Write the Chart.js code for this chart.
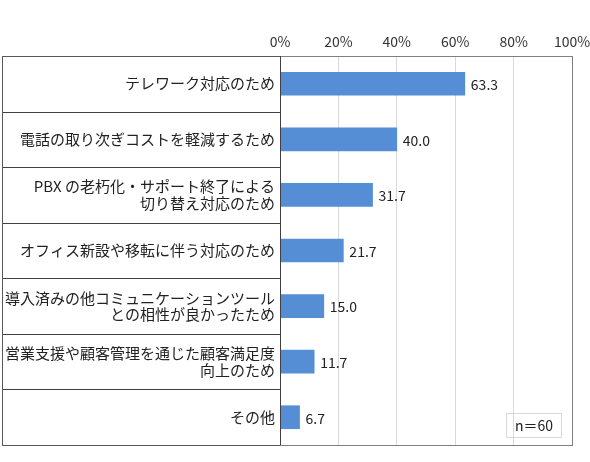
<!DOCTYPE html>
<html><head><meta charset="utf-8">
<script src="https://cdn.jsdelivr.net/npm/chart.js@4"></script>
<style>html,body{margin:0;padding:0;background:#fff}#w{width:590px;height:462px}</style>
</head><body><div id="w"><canvas id="c"></canvas></div>
<script>
const categories = [
  ["テレワーク対応のため"],
  ["電話の取り次ぎコストを軽減するため"],
  ["PBX の老朽化・サポート終了による","切り替え対応のため"],
  ["オフィス新設や移転に伴う対応のため"],
  ["導入済みの他コミュニケーションツール","との相性が良かったため"],
  ["営業支援や顧客管理を通じた顧客満足度","向上のため"],
  ["その他"]
];
const values = [63.3, 40.0, 31.7, 21.7, 15.0, 11.7, 6.7];
const tickValues = [0, 20, 40, 60, 80, 100];
const noteText = "n＝60";
const FONT = "'Noto Sans CJK JP', 'Noto Sans', sans-serif";

const frame = {
  id: 'frame',
  afterDraw(chart) {
    const {ctx, chartArea: a, scales: {x, y}} = chart;
    const left = 2;
    ctx.save();
    ctx.lineWidth = 1;
    ctx.strokeStyle = '#404040';
    for (let i = 0; i < categories.length - 1; i++) {
      const yy = Math.round((y.getPixelForValue(i) + y.getPixelForValue(i + 1)) / 2) + 0.5;
      ctx.beginPath(); ctx.moveTo(left, yy); ctx.lineTo(a.left, yy); ctx.stroke();
    }
    ctx.strokeStyle = '#595959';
    ctx.strokeRect(left + 0.5, Math.round(a.top) + 0.5, Math.round(a.left - left), Math.round(a.bottom - a.top));
    ctx.strokeStyle = '#7f7f7f';
    ctx.strokeRect(Math.round(a.left) + 0.5, Math.round(a.top) + 0.5, Math.round(a.right - a.left), Math.round(a.bottom - a.top));
    ctx.strokeStyle = '#404040';
    const x0 = Math.round(x.getPixelForValue(0)) + 0.5;
    ctx.beginPath(); ctx.moveTo(x0, a.top); ctx.lineTo(x0, a.bottom); ctx.stroke();
    ctx.fillStyle = '#222';
    ctx.font = "14px " + FONT;
    ctx.textAlign = 'left'; ctx.textBaseline = 'middle';
    chart.getDatasetMeta(0).data.forEach((bar, i) => {
      ctx.fillText(values[i].toFixed(1), bar.x + 6, bar.y + 1);
    });
    const bx = x.getPixelForValue(80) - 8, bw = 55, bh = 24;
    const by = a.bottom - 32;
    ctx.strokeStyle = '#d9d9d9';
    ctx.strokeRect(Math.round(bx) + 0.5, Math.round(by) + 0.5, bw, bh);
    ctx.fillStyle = '#222';
    ctx.textAlign = 'center';
    ctx.fillText(noteText, bx + bw / 2 + 1, by + bh / 2 + 1);
    ctx.restore();
  }
};

new Chart(document.getElementById('c'), {
  type: 'bar',
  data: {
    labels: categories,
    datasets: [{ data: values, backgroundColor: '#558ED5', barThickness: 23 }]
  },
  options: {
    indexAxis: 'y',
    responsive: true,
    maintainAspectRatio: false,
    animation: false,
    layout: { padding: { left: 2, right: 18, top: 0, bottom: 17 } },
    plugins: { legend: { display: false }, tooltip: { enabled: false } },
    scales: {
      x: {
        position: 'top', min: 0, max: 100,
        afterBuildTicks(s) { s.ticks = tickValues.map(v => ({ value: v })); },
        afterFit(s) { s.height = 56; s.paddingLeft = 0; s.paddingRight = 0; },
        grid: { color: '#d9d9d9', drawTicks: false },
        border: { display: false },
        ticks: { padding: 6, color: '#333', font: { size: 14, family: FONT }, callback: v => v + '%' }
      },
      y: {
        afterFit(s) { s.width = 278; },
        grid: { display: false, drawTicks: false },
        border: { display: false },
        ticks: { padding: 5, color: '#222', font: { size: 15, family: FONT, lineHeight: 1.1 } }
      }
    }
  },
  plugins: [frame]
});
</script>
</body></html>
